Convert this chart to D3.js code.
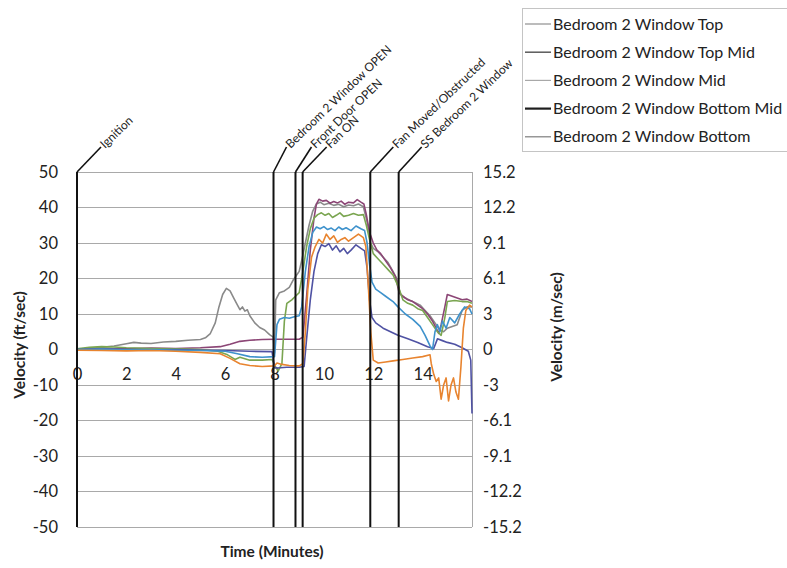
<!DOCTYPE html>
<html><head><meta charset="utf-8">
<script src="https://cdn.jsdelivr.net/npm/d3@7"></script>
<style>body{margin:0;background:#fff}svg{display:block;font-family:Lato,"Open Sans",sans-serif}</style>
</head><body><svg id="c" width="787" height="568"></svg>
<script>
// ---------- DATA ----------
const seriesNames = ["Bedroom 2 Window Top","Bedroom 2 Window Top Mid","Bedroom 2 Window Mid","Bedroom 2 Window Bottom Mid","Bedroom 2 Window Bottom"];
const xTicks = [0,2,4,6,8,10,12,14];
const leftTicks = [50,40,30,20,10,0,-10,-20,-30,-40,-50];
const rightTickLabels = ["15.2","12.2","9.1","6.1","3","0","-3","-6.1","-9.1","-12.2","-15.2"];
const eventTimes = [0,7.96,8.85,9.14,11.88,13.03];
const eventLabels = ["Ignition","Bedroom 2 Window OPEN","Front Door OPEN","Fan ON","Fan Moved/Obstructed","SS Bedroom 2 Window"];

const seriesTop = [[0,0],[0.5,0.3],[1,0.6],[1.5,1.0],[2,1.6],[2.3,2.0],[2.6,1.8],[3,1.7],[3.5,2.1],[4,2.3],[4.5,2.6],[5,2.8],[5.2,3.3],[5.4,4.5],[5.6,7.5],[5.75,12],[5.9,15.5],[6.05,17.2],[6.2,16.5],[6.35,14.5],[6.5,12.5],[6.6,11.2],[6.7,12],[6.8,10.8],[6.9,11.2],[7.0,9.5],[7.2,7.5],[7.4,6.2],[7.6,5.5],[7.8,4.2],[7.95,3.5],[8.0,-1],[8.05,14],[8.2,16],[8.4,16.5],[8.6,17.5],[8.75,19.5],[8.85,20.5],[9.0,22],[9.1,25],[9.25,30],[9.4,35],[9.55,39],[9.7,41],[9.85,41.5],[10,40.8],[10.2,41.2],[10.4,40.6],[10.6,40.9],[10.8,40.2],[11.0,40.7],[11.2,40.5],[11.4,41],[11.6,40.2],[11.75,36],[11.9,30],[12.0,28.5],[12.2,27.5],[12.4,26],[12.6,24.5],[12.8,22],[12.95,20],[13.1,15.5],[13.3,14.5],[13.5,13.8],[13.7,13.2],[13.9,12.5],[14.1,11],[14.3,9.5],[14.5,7.5],[14.7,5.5],[14.85,5],[15.0,6],[15.2,6.5],[15.4,7],[15.6,11],[15.8,12],[16,12]];
const seriesTopMid = [[0,0],[1,0.3],[2,0.2],[3,0.4],[4,0.3],[5,0.5],[5.8,0.8],[6.2,1.5],[6.6,2.3],[7,2.6],[7.5,2.8],[8,2.9],[8.5,2.9],[9.0,2.9],[9.15,3.5],[9.3,15],[9.45,28],[9.6,37],[9.7,41],[9.8,42.3],[9.95,41.8],[10.1,42],[10.25,41.2],[10.4,41.7],[10.55,41.3],[10.7,41.8],[10.85,40.9],[11.0,41.5],[11.2,41.3],[11.35,42.2],[11.5,41.5],[11.62,41],[11.72,38],[11.85,33],[12.0,30],[12.15,28],[12.3,27],[12.5,25],[12.7,23],[12.9,20.5],[13.05,16],[13.2,15],[13.4,14],[13.6,13.5],[13.8,12.5],[14.0,11.5],[14.2,10],[14.4,8],[14.55,6],[14.65,4.5],[14.75,7],[14.9,12],[15.0,15.5],[15.2,15],[15.4,14.5],[15.6,14],[15.8,14.2],[16,13.5]];
const seriesMid = [[0,0.2],[0.5,0.6],[1,0.8],[1.5,0.7],[2,0.5],[3,0.3],[4,0.2],[5,0],[5.7,-0.5],[6.1,-1.5],[6.4,-2.8],[6.6,-2.2],[7,-3],[7.5,-3],[7.9,-2.8],[8.05,-5],[8.15,-6],[8.3,-4],[8.4,8],[8.5,13],[8.7,14],[8.85,15],[9.0,16],[9.15,22],[9.3,29],[9.45,34],[9.6,37],[9.75,38],[9.9,38.5],[10.05,37.8],[10.2,38.3],[10.35,37.2],[10.5,37.8],[10.65,38.5],[10.8,37.5],[11.0,37.8],[11.2,38.3],[11.4,37.8],[11.6,38],[11.72,35],[11.85,31],[12.0,27],[12.2,25.5],[12.4,24],[12.6,22.5],[12.8,21],[13.0,18],[13.2,14],[13.4,13],[13.6,12.5],[13.8,11.5],[14.0,11],[14.2,9],[14.4,7],[14.6,5],[14.75,4],[14.9,9],[15.0,13.5],[15.3,13.8],[15.6,13.5],[15.8,13.5],[16,13]];
const seriesBottomMid = [[0,0],[1,0.1],[2,0],[3,-0.1],[4,0],[5,-0.2],[6,-0.3],[7,-0.5],[7.9,-0.6],[8.0,-5],[8.1,-5.2],[8.5,-5],[9.0,-5],[9.2,-4.8],[9.3,3],[9.45,14],[9.6,22],[9.75,27],[9.9,29.5],[10.05,29],[10.2,29.8],[10.35,28],[10.5,29.2],[10.65,27.5],[10.8,28.5],[10.95,27],[11.1,28],[11.3,29.5],[11.5,28.5],[11.65,27.8],[11.75,23],[11.85,14],[11.95,9],[12.1,7.5],[12.4,6],[12.7,5],[13.0,4],[13.4,3],[13.8,2],[14.2,0.8],[14.45,0.3],[14.6,3],[14.8,2.5],[15.0,2],[15.3,1.5],[15.6,0.5],[15.85,-0.5],[15.95,-3],[16,-18]];
const seriesBottom = [[0,0],[1,0.1],[2,-0.1],[3,0],[4,-0.2],[5,-0.3],[6,-0.5],[6.5,-1.2],[7,-2],[7.5,-2.2],[8.0,-2],[8.1,7],[8.2,8.5],[8.4,9],[8.6,8.8],[8.8,9.2],[9.0,9.5],[9.1,12],[9.25,22],[9.4,29],[9.55,33],[9.7,34.5],[9.85,34],[10,34.6],[10.15,33.8],[10.3,34.2],[10.45,33.5],[10.6,34.5],[10.75,33.8],[10.9,34.3],[11.1,33.5],[11.3,34.8],[11.5,34],[11.65,33.5],[11.75,30],[11.85,24],[11.95,19],[12.1,17],[12.3,16],[12.5,15],[12.8,13.5],[13.0,12],[13.3,10],[13.6,8.5],[13.9,6.5],[14.1,4],[14.3,1],[14.4,0],[14.5,5],[14.6,7],[14.7,5],[14.8,8],[14.95,6],[15.1,9],[15.3,7.5],[15.5,10],[15.7,12],[15.9,11.5],[16,10]];
const seriesExtra = [[0,-0.2],[1,-0.3],[2,-0.4],[3,-0.3],[4,-0.5],[5,-0.8],[5.8,-1.2],[6.2,-2.5],[6.6,-4],[7,-4.5],[7.5,-4.8],[8,-4.6],[8.1,-3.8],[8.3,-4.2],[8.6,-4.5],[9.0,-4.6],[9.15,-4],[9.25,5],[9.35,17],[9.5,26],[9.65,29],[9.8,31],[9.95,30],[10.1,32.5],[10.25,31],[10.4,32],[10.55,30.2],[10.7,31],[10.85,31.5],[11.0,30.5],[11.2,31.5],[11.4,32.5],[11.6,31.5],[11.7,29],[11.8,18],[11.9,5],[12.0,-3],[12.2,-3.8],[12.5,-3.5],[12.8,-3.2],[13.2,-2.8],[13.6,-2.4],[14.0,-2],[14.3,-1.5],[14.35,-4],[14.45,-7],[14.55,-9],[14.65,-8],[14.75,-14],[14.85,-10],[14.95,-8],[15.05,-14.5],[15.15,-10],[15.25,-8],[15.35,-12],[15.45,-14],[15.55,-5],[15.65,6],[15.75,11],[15.9,12.5],[16,12]];

// ---------- STYLE ----------
const lineSeries = [seriesTop, seriesTopMid, seriesMid, seriesBottomMid, seriesBottom, seriesExtra];
const lineColors = ["#8a8a8a","#8c4676","#7aa550","#4f52a3","#3e92cc","#e8842f"];
const legendSwatch = ["#8f8f8f","#5a5a5a","#a8a8a8","#1e1e1e","#7d7d7d"];
const legendSwatchW = [1.2,1.5,1.2,2.2,1.2];
const leaderDx = [24,13,16,24,23,23];

const svg = d3.select("#c");
const x = d3.scaleLinear().domain([0,16]).range([77,472]);
const y = d3.scaleLinear().domain([-50,50]).range([527,172]);

// gridlines
svg.append("g").selectAll("line").data(leftTicks).join("line")
  .attr("x1",x(0)).attr("x2",x(16)).attr("y1",d=>y(d)).attr("y2",d=>y(d))
  .attr("stroke","#a9a9a9").attr("stroke-width",1).attr("shape-rendering","crispEdges");
svg.append("line").attr("x1",x(16)).attr("x2",x(16)).attr("y1",y(50)).attr("y2",y(-50))
  .attr("stroke","#a9a9a9").attr("shape-rendering","crispEdges");

// axes
const gl = svg.append("g").attr("transform",`translate(${x(0)},0)`)
  .call(d3.axisLeft(y).tickValues(leftTicks).tickSize(0).tickPadding(19).tickFormat(d=>String(d)));
gl.select(".domain").remove();
gl.selectAll("text").attr("font-size",16.5).attr("fill","#222").attr("font-family","Lato");

const gr = svg.append("g").attr("transform",`translate(${x(16)},0)`)
  .call(d3.axisRight(y).tickValues(leftTicks).tickSize(0).tickPadding(11).tickFormat((d,i)=>rightTickLabels[i]));
gr.select(".domain").remove();
gr.selectAll("text").attr("font-size",16.5).attr("fill","#222").attr("font-family","Lato");

const gb = svg.append("g").attr("transform",`translate(0,${y(0)})`)
  .call(d3.axisBottom(x).tickValues(xTicks).tickSize(0).tickPadding(19).tickFormat(d=>String(d)));
gb.select(".domain").remove();
gb.selectAll("text").attr("font-size",16.5).attr("fill","#222").attr("font-family","Lato");

// series lines
const line = d3.line().x(d=>x(d[0])).y(d=>y(d[1]));
svg.append("g").selectAll("path").data(lineSeries).join("path")
  .attr("d",line).attr("fill","none").attr("stroke",(d,i)=>lineColors[i])
  .attr("stroke-width",1.6).attr("stroke-linejoin","round");

// event lines + leaders + labels
const ev = svg.append("g").selectAll("g").data(eventTimes).join("g");
ev.append("line").attr("x1",d=>x(d)).attr("x2",d=>x(d)).attr("y1",y(50)).attr("y2",y(-50))
  .attr("stroke","#111").attr("stroke-width",2);
ev.append("polyline").attr("points",(d,i)=>`${x(d)},${y(50)} ${x(d)+leaderDx[i]},${y(50)-25}`)
  .attr("fill","none").attr("stroke","#111").attr("stroke-width",1.6);
ev.append("text").attr("transform",(d,i)=>`translate(${x(d)+leaderDx[i]+1},${y(50)-26}) rotate(-44)`)
  .attr("dy","0.35em").attr("font-size",12).attr("fill","#222").text((d,i)=>eventLabels[i]);

// axis titles
svg.append("text").attr("x",272).attr("y",557).attr("text-anchor","middle")
  .attr("font-size",15.5).attr("font-weight","bold").attr("fill","#222").text("Time (Minutes)");
svg.append("text").attr("transform","translate(25,345) rotate(-90)").attr("text-anchor","middle")
  .attr("font-size",15.5).attr("font-weight","bold").attr("fill","#222").text("Velocity (ft/sec)");
svg.append("text").attr("transform","translate(562,327) rotate(-90)").attr("text-anchor","middle")
  .attr("font-size",15.5).attr("font-weight","bold").attr("fill","#222").text("Velocity (m/sec)");

// legend
const lg = svg.append("g");
lg.append("rect").attr("x",522.5).attr("y",8.5).attr("width",280).attr("height",143)
  .attr("fill","#fff").attr("stroke","#c4c4c4");
const le = lg.selectAll("g").data(seriesNames).join("g")
  .attr("transform",(d,i)=>`translate(0,${24+i*28.2})`);
le.append("line").attr("x1",525).attr("x2",551).attr("stroke",(d,i)=>legendSwatch[i]).attr("stroke-width",(d,i)=>legendSwatchW[i]);
le.append("text").attr("x",553).attr("dy","0.35em").attr("font-size",16).attr("fill","#222").text(d=>d);
</script></body></html>
